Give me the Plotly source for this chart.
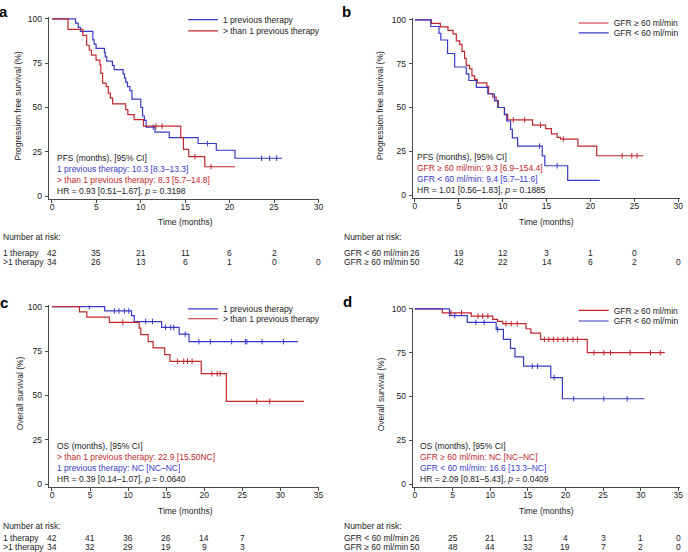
import plotly.graph_objects as go

W, H = 688, 552
FONT = "Liberation Sans, Arial, Helvetica, sans-serif"
BLUE = "#3a3ac6"
RED = "#c1272d"
INK = "#222222"
AXIS = "#4a4a4a"
FS = 8.5

# ---------------- data ----------------
# a: PFS by number of previous therapies
a_one_t = [0, 2.65, 2.95, 3.2, 4.6, 4.75, 4.96, 5.9, 6.0, 6.16, 6.8, 7.0, 8.0, 8.17, 8.3, 8.5, 8.77, 9.0, 10.0, 10.2,
           10.4, 10.6, 11.6, 13.2, 16.45, 18.5, 20.6, 25.9]
a_one_s = [100, 97.6, 95.2, 92.9, 88.1, 85.7, 83.3, 80.9, 78.5, 76.1, 73.8, 71.4, 69.0, 66.6, 64.2, 61.8, 59.5, 54.7,
           50.0, 45.2, 42.8, 38.9, 36.1, 33.0, 29.7, 25.9, 21.4, 21.4]
a_one_cens = [11.4, 17.5, 23.6, 24.5, 25.3]
a_more_t = [0, 1.8, 3.47, 3.9, 4.2, 4.44, 4.96, 5.4, 5.5, 5.7, 6.1, 6.34, 6.57, 6.83, 8.3, 8.54, 9.25, 10.3, 14.5,
            14.8, 15.4, 17.2, 20.6]
a_more_s = [100, 94.1, 90.7, 85.1, 82.3, 79.5, 76.7, 73.9, 69.3, 63.7, 61.8, 58.1, 55.3, 52.1, 48.8, 46.0, 43.2, 39.5,
            33.0, 26.4, 22.3, 16.6, 16.6]
a_more_cens = [11.7, 12.4, 16.1, 17.9]

# b: PFS by GFR
b_hi_t = [0, 1.89, 2.9, 3.77, 4.34, 4.72, 5.1, 5.36, 5.66, 5.85, 6.23, 6.5, 6.8, 7.1, 8.2, 8.4, 8.87, 9.25, 9.5, 10.2,
          10.57, 13.4, 14.9, 15.55, 16.2, 16.6, 18.57, 20.7, 26.0]
b_hi_s = [100, 98, 96, 94, 92, 88, 86, 82, 78, 74, 72, 68, 66, 64, 62, 58, 56, 54, 50, 46, 43, 40, 38, 35, 33, 32, 28,
          22.5, 22.5]
b_hi_cens = [11.2, 12.5, 14.3, 16.9, 23.6, 24.7, 25.3]
b_lo_t = [0, 1.81, 2.75, 2.95, 3.72, 4.53, 5.85, 6.15, 7.0, 8.3, 9.06, 9.43, 10.2, 10.45, 10.9, 11.1, 11.7, 14.5, 14.8,
          17.4, 21.05]
b_lo_s = [100, 96.2, 92.3, 88.5, 80.8, 73.1, 69.2, 65.4, 61.5, 57.7, 53.8, 50.0, 46.2, 42.3, 37.5, 32.7, 28.0, 22.4,
          16.8, 8.4, 8.4]
b_lo_cens = [14.2, 16.2]

# c: OS by number of previous therapies
c_one_t = [0, 6.92, 10.45, 10.8, 14.4, 16.7, 18.0, 32.3]
c_one_s = [100, 97.6, 95.0, 91.6, 88.3, 84.5, 80.3, 80.3]
c_one_cens = [4.9, 8.2, 8.8, 9.5, 10.1, 12.3, 13.2, 14.9, 15.6, 16.0, 17.5, 19.3, 20.8, 23.6, 25.4, 25.6, 27.6, 30.4]
c_more_t = [0, 3.61, 4.57, 7.53, 11.45, 11.67, 12.63, 13.28, 14.8, 15.5, 19.6, 22.9, 33.1]
c_more_s = [100, 97.1, 94.1, 91.2, 87.9, 84.2, 80.3, 76.8, 73.0, 69.2, 62.2, 46.6, 46.6]
c_more_cens = [9.3, 16.5, 17.3, 17.8, 18.4, 21.0, 21.7, 22.1, 26.9, 28.6]

# d: OS by GFR
d_hi_t = [0, 3.65, 7.49, 10.35, 11.0, 11.67, 14.75, 15.4, 16.7, 22.9, 33.2]
d_hi_s = [100, 97.7, 95.9, 94.0, 92.9, 91.6, 88.7, 86.2, 82.6, 75.0, 75.0]
d_hi_cens = [4.8, 6.2, 8.4, 9.0, 9.7, 12.1, 12.8, 13.6, 17.2, 17.8, 18.4, 19.0, 19.7, 20.3, 21.0, 21.6, 23.8, 25.1,
             26.0, 28.6, 31.3, 32.6]
d_lo_t = [0, 4.6, 6.96, 10.8, 11.76, 12.7, 13.3, 14.44, 18.05, 19.6, 30.5]
d_lo_s = [100, 96.2, 92.3, 88.3, 82.6, 77.5, 72.6, 67.3, 60.8, 48.7, 48.7]
d_lo_cens = [5.3, 8.1, 9.2, 11.0, 15.6, 16.3, 18.5, 21.1, 25.1, 28.2]

# tick labels
pfs_ticks = [0, 5, 10, 15, 20, 25, 30]
os_ticks = [0, 5, 10, 15, 20, 25, 30, 35]
y_ticks = [0, 25, 50, 75, 100]

# number at risk
a_risk_one = [42, 35, 21, 11, 6, 2]
a_risk_more = [34, 26, 13, 6, 1, 0, 0]
b_risk_lo = [26, 19, 12, 3, 1, 0]
b_risk_hi = [50, 42, 22, 14, 6, 2, 0]
c_risk_one = [42, 41, 36, 26, 14, 7]
c_risk_more = [34, 32, 29, 19, 9, 3]
d_risk_lo = [26, 25, 21, 13, 4, 3, 1, 0]
d_risk_hi = [50, 48, 44, 32, 19, 7, 2, 0]

# ---------------- layout geometry (pixels) ----------------
GEOM = {
    "a": dict(x0=52.3, xe=320.3, xmax=30, L=49, R=321, y100=15.0, y0=194.3, B=197, T=13.6),
    "b": dict(x0=417.3, xe=682.3, xmax=30, L=415, R=683.5, y100=16.0, y0=193.3, B=196, T=14.6),
    "c": dict(x0=52.3, xe=320.3, xmax=35, L=49, R=321, y100=306.0, y0=485.3, B=488, T=304.6),
    "d": dict(x0=417.3, xe=682.3, xmax=35, L=415, R=683.5, y100=308.3, y0=485.3, B=488, T=306.9),
}


def py(p):
    return 1 - p / H


def pxx(p):
    return p / W


def surv_at(ts, ss, t):
    v = ss[0]
    for ti, si in zip(ts, ss):
        if ti <= t:
            v = si
    return v


fig = go.Figure()
annotations = []
layout_axes = {}
legends = {}
leg_count = [0]

panels = [
    dict(key="a", ax="", ticks=pfs_ticks,
         curves=[("1 previous therapy", a_one_t, a_one_s, a_one_cens, BLUE, 224, 19.3),
                 ("&gt; than 1 previous therapy", a_more_t, a_more_s, a_more_cens, RED, 224, 30.7)],
         ytitle="Progression free survival (%)", ytx=18,
         box=[("PFS (months), [95% CI]", INK),
              ("1 previous therapy: 10.3 [8.3–13.3]", BLUE),
              ("&gt; than 1 previous therapy: 8.3 [5.7–14.8]", RED),
              ("HR = 0.93 [0.51–1.67], <i>p</i> = 0.3198", INK)], boxx=55,
         risk=[("1 therapy", a_risk_one), ("&gt;1 therapy", a_risk_more)],
         riskx=1, risky=(236, 251.7, 260.7), xtitle_y=220, letter=(4, 8)),
    dict(key="b", ax="2", ticks=pfs_ticks,
         curves=[("GFR ≥ 60 ml/min", b_hi_t, b_hi_s, b_hi_cens, RED, 617, 22.7),
                 ("GFR &lt; 60 ml/min", b_lo_t, b_lo_s, b_lo_cens, BLUE, 617, 32.7)],
         ytitle="Progression free survival (%)", ytx=382,
         box=[("PFS (months), [95% CI]", INK),
              ("GFR ≥ 60 ml/min: 9.3 [6.9–154.4]", RED),
              ("GFR &lt; 60 ml/min: 9.4 [5.7–11.6]", BLUE),
              ("HR = 1.01 [0.56–1.83], <i>p</i> = 0.1885", INK)], boxx=417,
         risk=[("GFR &lt; 60 ml/min", b_risk_lo), ("GFR ≥ 60 ml/min", b_risk_hi)],
         riskx=344, risky=(236, 251.7, 260.7), xtitle_y=220, letter=(349, 8)),
    dict(key="c", ax="3", ticks=os_ticks,
         curves=[("1 previous therapy", c_one_t, c_one_s, c_one_cens, BLUE, 224, 311.7),
                 ("&gt; than 1 previous therapy", c_more_t, c_more_s, c_more_cens, RED, 224, 321.7)],
         ytitle="Overall survival (%)", ytx=20,
         box=[("OS (months), [95% CI]", INK),
              ("&gt; than 1 previous therapy: 22.9 [15.50NC]", RED),
              ("1 previous therapy: NC [NC–NC]", BLUE),
              ("HR = 0.39 [0.14–1.07], <i>p</i> = 0.0640", INK)], boxx=55,
         risk=[("1 therapy", c_risk_one), ("&gt;1 therapy", c_risk_more)],
         riskx=1, risky=(528, 539.5, 548.5), xtitle_y=513, letter=(4, 302)),
    dict(key="d", ax="4", ticks=os_ticks,
         curves=[("GFR ≥ 60 ml/min", d_hi_t, d_hi_s, d_hi_cens, RED, 617, 313.3),
                 ("GFR &lt; 60 ml/min", d_lo_t, d_lo_s, d_lo_cens, BLUE, 617, 324)],
         ytitle="Overall survival (%)", ytx=383,
         box=[("OS (months), [95% CI]", INK),
              ("GFR ≥ 60 ml/min: NC [NC–NC]", RED),
              ("GFR &lt; 60 ml/min: 16.6 [13.3–NC]", BLUE),
              ("HR = 2.09 [0.81–5.43], <i>p</i> = 0.0409", INK)], boxx=420,
         risk=[("GFR &lt; 60 ml/min", d_risk_lo), ("GFR ≥ 60 ml/min", d_risk_hi)],
         riskx=344, risky=(528, 539.5, 548.5), xtitle_y=513, letter=(350, 301)),
]

for p in panels:
    g = GEOM[p["key"]]
    sx = (g["xe"] - g["x0"]) / g["xmax"]
    sy = (g["y0"] - g["y100"]) / 100.0
    xr = [(g["L"] - g["x0"]) / sx, (g["R"] - g["x0"]) / sx]
    yr = [(g["y0"] - g["B"]) / sy, (g["y0"] - g["T"]) / sy]
    xa, ya = "x" + p["ax"], "y" + p["ax"]
    axis_common = dict(showline=True, linecolor=AXIS, linewidth=1, ticks="outside", ticklen=3, tickwidth=1,
                       tickcolor=AXIS, showgrid=False, zeroline=False, fixedrange=True,
                       tickfont=dict(family=FONT, size=FS, color=INK))
    layout_axes["xaxis" + p["ax"]] = dict(axis_common, domain=[pxx(g["L"]), pxx(g["R"])], range=xr,
                                          tickvals=p["ticks"], anchor=ya, ticklabelstandoff=-3)
    layout_axes["yaxis" + p["ax"]] = dict(axis_common, domain=[py(g["B"]), py(g["T"])], range=yr,
                                          tickvals=y_ticks, anchor=xa, ticklabelstandoff=1)

    for name, ts, ss, cens, col, lx, ly in p["curves"]:
        leg_count[0] += 1
        lname = "legend" if leg_count[0] == 1 else "legend%d" % leg_count[0]
        fig.add_trace(go.Scatter(x=ts, y=ss, mode="lines", line=dict(color=col, width=1.2, shape="hv"),
                                 name=name, xaxis=xa, yaxis=ya, legend=lname, showlegend=True))
        fig.add_trace(go.Scatter(x=cens, y=[surv_at(ts, ss, c) for c in cens], mode="markers",
                                 marker=dict(symbol="line-ns", size=4, line=dict(width=1, color=col)),
                                 xaxis=xa, yaxis=ya, showlegend=False, hoverinfo="skip"))
        legends[lname] = dict(x=pxx(lx - 40), y=py(ly - 3.5), xanchor="left", yanchor="middle",
                              bgcolor="rgba(0,0,0,0)", borderwidth=0,
                              font=dict(family=FONT, size=FS, color=INK), itemwidth=30)

    # text box
    base = [g["y0"] - 38.6, g["y0"] - 27.6, g["y0"] - 16.6, g["y0"] - 5.3]
    for (txt, col), yy in zip(p["box"], base):
        annotations.append(dict(text=txt, x=pxx(p["boxx"]), y=py(yy), xref="paper", yref="paper",
                                xanchor="left", yanchor="middle", showarrow=False,
                                font=dict(family=FONT, size=FS, color=col)))
    # y title
    annotations.append(dict(text=p["ytitle"], x=pxx(p["ytx"]), y=py((g["y100"] + g["y0"]) / 2 - 2),
                            xref="paper", yref="paper", textangle=-90, showarrow=False,
                            xanchor="center", yanchor="middle", font=dict(family=FONT, size=FS, color=INK)))
    # x title
    annotations.append(dict(text="Time (months)", x=pxx((g["x0"] + g["xe"]) / 2), y=py(p["xtitle_y"]),
                            xref="paper", yref="paper", showarrow=False, xanchor="center", yanchor="middle",
                            font=dict(family=FONT, size=FS, color=INK)))
    # panel letter
    annotations.append(dict(text="<b>%s</b>" % p["key"], x=pxx(p["letter"][0]), y=py(p["letter"][1]),
                            xref="paper", yref="paper", showarrow=False, xanchor="center", yanchor="middle",
                            font=dict(family=FONT, size=15, color="#000")))
    # number at risk
    annotations.append(dict(text="Number at risk:", x=pxx(p["riskx"]), y=py(p["risky"][0]), xref="paper",
                            yref="paper", showarrow=False, xanchor="left", yanchor="middle",
                            font=dict(family=FONT, size=FS, color=INK)))
    for (lab, vals), yy in zip(p["risk"], p["risky"][1:]):
        annotations.append(dict(text=lab, x=pxx(p["riskx"]), y=py(yy), xref="paper", yref="paper",
                                showarrow=False, xanchor="left", yanchor="middle",
                                font=dict(family=FONT, size=FS, color=INK)))
        for t, v in zip(p["ticks"], vals):
            annotations.append(dict(text=str(v), x=t, y=py(yy), xref=xa, yref="paper", showarrow=False,
                                    xanchor="center", yanchor="middle",
                                    font=dict(family=FONT, size=FS, color=INK)))

fig.update_layout(width=W, height=H, autosize=False, margin=dict(l=0, r=0, t=0, b=0),
                  paper_bgcolor="white", plot_bgcolor="white", annotations=annotations,
                  font=dict(family=FONT, size=FS, color=INK), **layout_axes, **legends)

fig.write_html("out.html", config={"displayModeBar": False},
               post_script="document.body.style.margin='0';document.body.style.padding='0';")
